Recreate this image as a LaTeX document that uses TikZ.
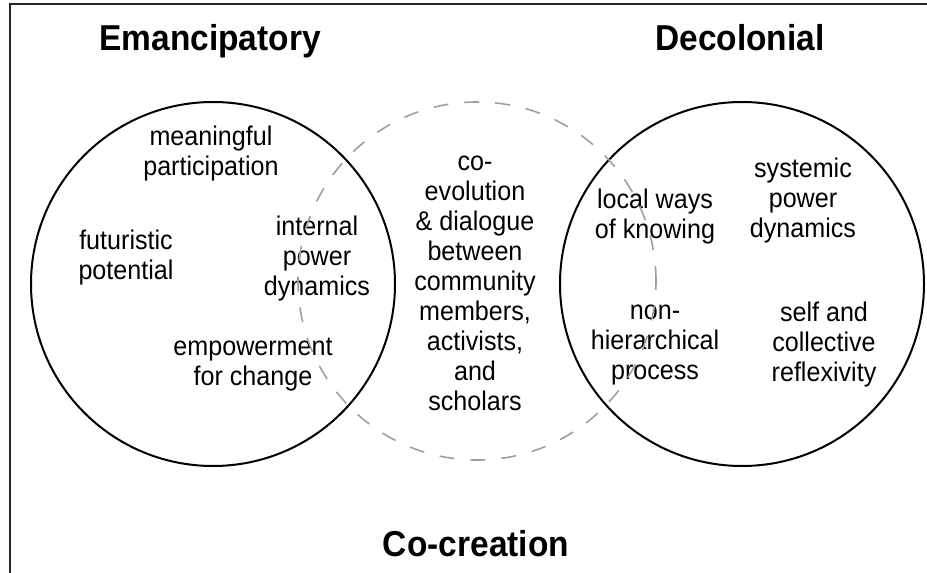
\documentclass[tikz,border=0pt]{standalone}
\usepackage{fontspec}
\setmainfont{Liberation Sans}[FakeStretch=0.93]
\usetikzlibrary{positioning}

\begin{document}
\begin{tikzpicture}[x=0.5pt,y=-0.5pt,
	ring/.style={circle,draw,line width=1pt,minimum size=182pt,inner sep=0pt},
	dashring/.style={circle,draw=gray!75,line width=0.8pt,dash pattern=on 7.5pt off 8pt,minimum size=179pt,inner sep=0pt},
	word/.style={align=center,font=\fontsize{13.5}{15}\selectfont},
	heading/.style={anchor=base,font=\fontsize{18}{20}\selectfont\bfseries}]
	\useasboundingbox (0,0) rectangle (927,573);
	
	% 外框：只有左边和上边
	\draw[line width=1.1pt,gray!30!black] (10,573) -- (10,4) -- (927,4);
	
	% 三个圆
	\node[ring] (emanc) at (213,284) {};
	\node[ring] (decol) at (742,284) {};
	
	% 标题
	\node[heading] (emanctitle) at (210,50) {Emancipatory};
	\node[heading] (decoltitle) at (740,50) {Decolonial};
	\node[heading] (cocreate) at (476,556) {Co-creation};
	
	% 左圆里的词
	\node[word] (meaning) at (211,154) {meaningful\\participation};
	\node[word] (future) at (126,258) {futuristic\\potential};
	\node[word] (internal) at (317,259) {internal\\power\\dynamics};
	\node[word] (empower) at (253,365) {empowerment\\for change};
	
	% 中间的词
	\node[word] (middle) at (475,283) {co-\\evolution\\\& dialogue\\between\\community\\members,\\activists,\\and\\scholars};
	
	% 右圆里的词
	\node[word] (local) at (655,217) {local ways\\of knowing};
	\node[word] (systemic) at (803,201) {systemic\\power\\dynamics};
	\node[word] (nonhier) at (655,345) {non-\\hierarchical\\process};
	\node[word] (reflex) at (824,345) {self and\\collective\\reflexivity};
	
	% 虚线圆压在文字上面
	\node[dashring] (cocircle) at (477,281) {};
\end{tikzpicture}
\end{document}
